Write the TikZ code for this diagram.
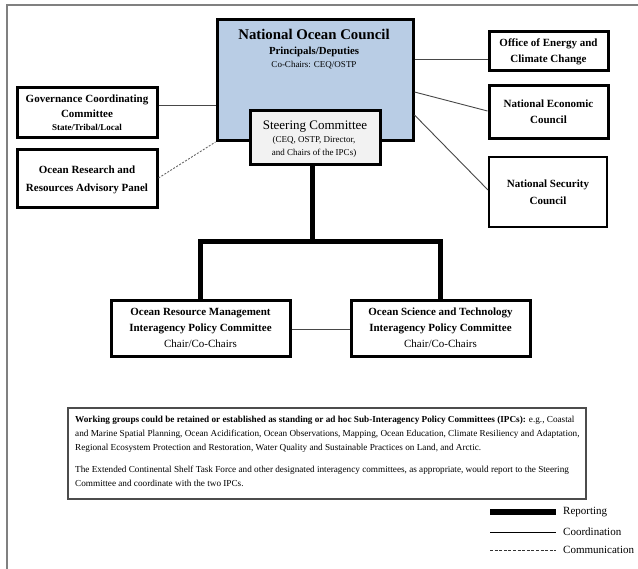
\documentclass[tikz,border=0pt]{standalone}
\usepackage{fontspec}
\setmainfont{Liberation Serif}
\begin{document}
\begin{tikzpicture}[x=1pt,y=-1pt,
  box/.style={draw=black, line width=3pt, fill=white, inner sep=0pt, align=center},
  thinbox/.style={box, line width=2pt},
  ttl/.style={inner sep=0pt, align=center, font=\bfseries\fontsize{11}{16}\selectfont},
  coord/.style={draw=black!72, line width=0.9pt},
  comm/.style={draw=black!60, line width=0.9pt, dash pattern=on 2pt off 1.5pt},
  report/.style={draw=black, line width=5pt, line join=miter},
  frame/.style={draw=black!50, line width=1.6pt}]
\useasboundingbox (0,0) rectangle (638,569);
\definecolor{nocblue}{HTML}{B9CDE5}
\definecolor{steer}{HTML}{F2F2F2}
% outer frame
\draw[frame] (7,569) -- (7,5) -- (638,5);

% National Ocean Council
\node[box, fill=nocblue, minimum width=196, minimum height=121] (noc) at (315,80) {};
\node[inner sep=0pt, font=\bfseries\fontsize{14.8}{16}\selectfont] (nocA) at (314,34) {National Ocean Council};
\node[inner sep=0pt, font=\bfseries\fontsize{10.8}{12}\selectfont] (nocB) at (314,52) {Principals/Deputies};
\node[inner sep=0pt, font=\fontsize{9}{10}\selectfont] (nocC) at (314,65) {Co-Chairs: CEQ/OSTP};

% Steering Committee
\node[box, fill=steer, minimum width=130, minimum height=54] (sc) at (315,138) {};
\node[inner sep=0pt, font=\fontsize{13}{15}\selectfont] (scA) at (315,127) {Steering Committee};
\node[inner sep=0pt, align=center, font=\fontsize{9}{12.5}\selectfont] (scB) at (314,147) {(CEQ, OSTP, Director,\\and Chairs of the IPCs)};

% left boxes
\node[box, minimum width=140, minimum height=50] (gcc) at (87,113) {};
\node[ttl, font=\bfseries\fontsize{11}{15}\selectfont] (gccA) at (87,106) {Governance Coordinating\\Committee};
\node[inner sep=0pt, font=\bfseries\fontsize{9}{10}\selectfont] (gccB) at (87,127) {State/Tribal/Local};

\node[box, minimum width=140, minimum height=58] (orr) at (87,179) {};
\node[ttl, font=\bfseries\fontsize{11}{18}\selectfont] (orrT) at (87,180) {Ocean Research and\\Resources Advisory Panel};

% right boxes
\node[box, minimum width=119, minimum height=39] (oec) at (548.5,51.5) {};
\node[ttl, font=\bfseries\fontsize{11}{15.5}\selectfont] (oecT) at (548.5,52) {Office of Energy and\\Climate Change};

\node[box, minimum width=119, minimum height=53] (nec) at (548.5,112) {};
\node[ttl, font=\bfseries\fontsize{11}{16}\selectfont] (necT) at (548.5,112) {National Economic\\Council};

\node[thinbox, minimum width=118, minimum height=70] (nsc) at (548,192) {};
\node[ttl, font=\bfseries\fontsize{11}{17}\selectfont] (nscT) at (548,192) {National Security\\Council};

% IPC boxes
\node[box, minimum width=179, minimum height=56] (ipcL) at (200.5,329) {};
\node[ttl] (ipcLA) at (200.5,321) {Ocean Resource Management\\Interagency Policy Committee};
\node[inner sep=0pt, font=\fontsize{11}{12}\selectfont] (ipcLB) at (200.5,344) {Chair/Co-Chairs};

\node[box, minimum width=179, minimum height=56] (ipcR) at (440.5,329) {};
\node[ttl] (ipcRA) at (440.5,321) {Ocean Science and Technology\\Interagency Policy Committee};
\node[inner sep=0pt, font=\fontsize{11}{12}\selectfont] (ipcRB) at (440.5,344) {Chair/Co-Chairs};

% coordination connectors
\draw[coord] (gcc.east |- 0,105) -- (noc.west |- 0,105);
\draw[coord] (noc.east |- 0,59) -- (oec.west |- 0,59);
\draw[coord] (noc.east |- 0,92) -- (nec.west |- 0,111);
\draw[coord] (noc.east |- 0,115) -- (nsc.west |- 0,190);
\draw[coord] (ipcL.east) -- (ipcR.west);
% communication
\draw[comm] (orr.east |- 0,178) -- (noc.south west);

% reporting
\coordinate (jt) at (312,242);
\draw[report] (sc.south -| jt) -- (jt);
\draw[report] (ipcL.north) |- (jt) -| (ipcR.north);

% note box
\node[draw=black!70, line width=1.2pt, minimum width=518, minimum height=91, inner sep=0pt] (note) at (327,453.5) {};
\node[anchor=north west, align=left, inner sep=0pt, font=\fontsize{9.2}{13.8}\selectfont] (noteT) at (75,416)
{\textbf{Working groups could be retained or established as standing or ad hoc Sub-Interagency Policy Committees (IPCs):} e.g., Coastal\\
and Marine Spatial Planning, Ocean Acidification, Ocean Observations, Mapping, Ocean Education, Climate Resiliency and Adaptation,\\
Regional Ecosystem Protection and Restoration, Water Quality and Sustainable Practices on Land, and Arctic.\\[9pt]
The Extended Continental Shelf Task Force and other designated interagency committees, as appropriate, would report to the Steering\\
Committee and coordinate with the two IPCs.};

% legend
\coordinate (lr1) at (490,512); \coordinate (lr2) at (556,512);
\coordinate (lc1) at (490,532); \coordinate (lc2) at (556,532);
\coordinate (lm1) at (490,550); \coordinate (lm2) at (556,550);
\draw[draw=black, line width=5.5pt] (lr1) -- (lr2);
\draw[draw=black, line width=0.9pt] (lc1) -- (lc2);
\draw[draw=black!80, line width=0.8pt, dash pattern=on 3pt off 1.6pt] (lm1) -- (lm2);
\node[anchor=west, inner sep=0pt, font=\fontsize{11}{12}\selectfont] (legR) at (563,512) {Reporting};
\node[anchor=west, inner sep=0pt, font=\fontsize{11}{12}\selectfont] (legC) at (563,532) {Coordination};
\node[anchor=west, inner sep=0pt, font=\fontsize{11}{12}\selectfont] (legM) at (563,550) {Communication};
\end{tikzpicture}
\end{document}
